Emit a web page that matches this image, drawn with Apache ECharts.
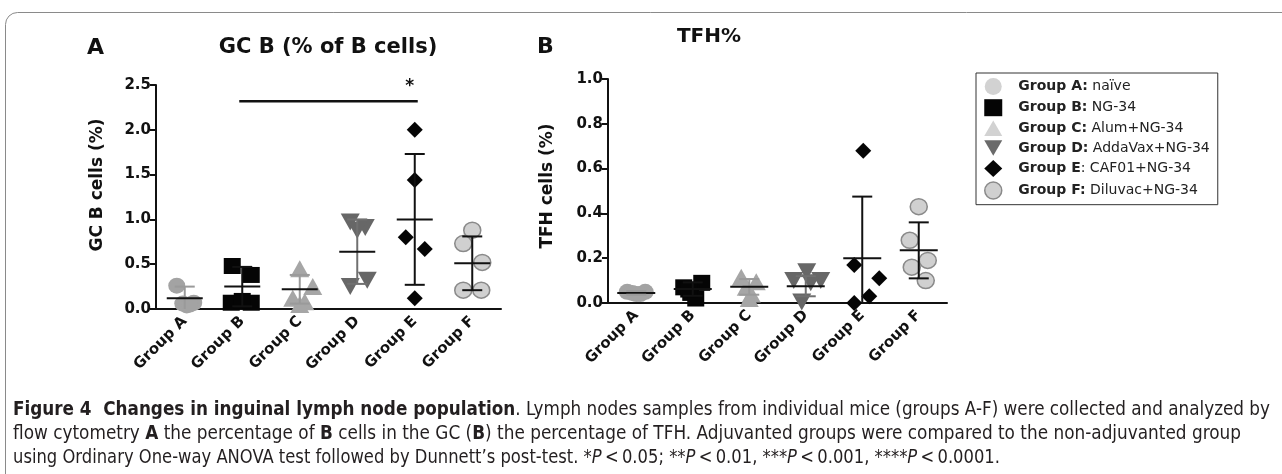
<!DOCTYPE html>
<html><head><meta charset="utf-8">
<script src="https://cdn.jsdelivr.net/npm/echarts@6/dist/echarts.min.js"></script>
<style>
html,body{margin:0;padding:0;background:#fff;}
#chart{position:absolute;left:0;top:0;width:1282px;height:474px;}
#caption{position:absolute;left:13px;top:396px;font-family:"Liberation Sans Narrow","DejaVu Sans Condensed","Liberation Sans",sans-serif;font-size:19px;color:#231f20;}
#caption div{white-space:nowrap;transform-origin:0 50%;height:24px;line-height:24px;}
#caption b{font-weight:bold;}
</style></head><body>
<div id="chart"></div>
<div id="caption">
<div data-w="1257"><b>Figure 4&nbsp; Changes in inguinal lymph node population</b>. Lymph nodes samples from individual mice (groups A-F) were collected and analyzed by</div>
<div data-w="1228">flow cytometry <b>A</b> the percentage of <b>B</b> cells in the GC (<b>B</b>) the percentage of TFH. Adjuvanted groups were compared to the non-adjuvanted group</div>
<div data-w="987">using Ordinary One-way ANOVA test followed by Dunnett’s post-test. *<i>P</i>&thinsp;&lt;&thinsp;0.05; **<i>P</i>&thinsp;&lt;&thinsp;0.01, ***<i>P</i>&thinsp;&lt;&thinsp;0.001, ****<i>P</i>&thinsp;&lt;&thinsp;0.0001.</div>
</div>
<script>
// ---------------- data ----------------
const categories = ['Group A', 'Group B', 'Group C', 'Group D', 'Group E', 'Group F'];
const legendDescriptions = ['naïve', 'NG-34', 'Alum+NG-34', 'AddaVax+NG-34', 'CAF01+NG-34', 'Diluvac+NG-34'];

// Panel A: GC B cells (% of B cells), individual mice
const gcbGroupA = [0.26, 0.04, 0.07, 0.06, 0.05];
const gcbGroupB = [0.48, 0.38, 0.07, 0.07, 0.09];
const gcbGroupC = [0.45, 0.25, 0.12, 0.08, 0.05];
const gcbGroupD = [0.97, 0.91, 0.88, 0.25, 0.32];
const gcbGroupE = [2.00, 1.44, 0.80, 0.67, 0.12];
const gcbGroupF = [0.88, 0.73, 0.52, 0.21, 0.21];
const gcbMean = [0.12, 0.25, 0.22, 0.64, 1.00, 0.51];
const gcbSD = [0.13, 0.22, 0.16, 0.36, 0.73, 0.30];
const gcbTicks = [0.0, 0.5, 1.0, 1.5, 2.0, 2.5];
const gcbSignificance = [[1, 4, 2.32]]; // Group B vs Group E
const gcbSignificanceLabel = ['*'];

// Panel B: TFH cells (%), individual mice
const tfhGroupA = [0.05, 0.05, 0.04, 0.045, 0.04];
const tfhGroupB = [0.07, 0.09, 0.045, 0.02, 0.06];
const tfhGroupC = [0.115, 0.095, 0.07, 0.04, 0.02];
const tfhGroupD = [0.14, 0.10, 0.10, 0.09, 0.005];
const tfhGroupE = [0.68, 0.17, 0.11, 0.03, 0.00];
const tfhGroupF = [0.43, 0.28, 0.19, 0.16, 0.10];
const tfhMean = [0.045, 0.062, 0.072, 0.075, 0.20, 0.235];
const tfhSD = [0.008, 0.03, 0.035, 0.045, 0.275, 0.125];
const tfhTicks = [0.0, 0.2, 0.4, 0.6, 0.8, 1.0];

// ---------------- styles ----------------
const gcbJitter = [[-8, 2, 9, -2, 5], [-10, 9, -11, 9, 0], [0, 13, -7, 5, 0], [-7, 8, 0, -7, 10], [0, 0, -9, 10, 0], [0, -9, 10, -9, 9]];
const tfhJitter = [[-9, 9, 0, -4, 4], [-9, 9, -2, 3, -4], [-8, 7, -3, 2, 0], [1, -12, 15, 5, -4], [1, -8, 17, 7, -8], [0, -9, 9, -7, 7]];
const TRI_UP = 'path://M5,0L10,8.66L0,8.66Z';
const TRI_DOWN = 'path://M0,0L10,0L5,8.66Z';
const markStyles = [
  { symbol: 'circle', size: [17, 16], color: '#a3a3a3' },
  { symbol: 'rect', size: [17, 16], color: '#050505' },
  { symbol: TRI_UP, size: [19, 17], color: '#a6a6a6' },
  { symbol: TRI_DOWN, size: [19, 17], color: '#676767' },
  { symbol: 'diamond', size: [16, 16], color: '#050505' },
  { symbol: 'circle', size: [17, 16], color: '#d0d0d0', border: '#8a8a8a' }
];
const legendStyles = [
  { icon: 'circle', color: '#d2d2d2' },
  { icon: 'rect', color: '#050505' },
  { icon: TRI_UP, color: '#d2d2d2' },
  { icon: TRI_DOWN, color: '#6a6a6a' },
  { icon: 'diamond', color: '#050505' },
  { icon: 'circle', color: '#d0d0d0', border: '#8a8a8a' }
];
const errColors = ['#9a9a9a', '#111', '#9a9a9a', '#707070', '#111', '#111'];
const FONT = 'DejaVu Sans';

const gcbGroups = [gcbGroupA, gcbGroupB, gcbGroupC, gcbGroupD, gcbGroupE, gcbGroupF];
const tfhGroups = [tfhGroupA, tfhGroupB, tfhGroupC, tfhGroupD, tfhGroupE, tfhGroupF];

function scatterSeries(groups, jitter, axisIdx) {
  return groups.map((vals, g) => ({
    type: 'scatter', name: categories[g], xAxisIndex: axisIdx, yAxisIndex: axisIdx,
    symbol: markStyles[g].symbol, symbolSize: markStyles[g].size, symbolKeepAspect: false,
    itemStyle: { color: markStyles[g].color, borderColor: markStyles[g].border || markStyles[g].color, borderWidth: markStyles[g].border ? 1.5 : 0, opacity: 1 },
    emphasis: { disabled: true }, silent: true, z: 3,
    data: vals.map((v, i) => ({ value: [g, v], symbolOffset: [jitter[g][i], 0] }))
  }));
}

function errorSeries(mean, sd, axisIdx, meanHalf, capHalf) {
  return {
    type: 'custom', xAxisIndex: axisIdx, yAxisIndex: axisIdx, z: 5, silent: true,
    data: mean.map((m, i) => [i, m, sd[i]]),
    renderItem: function (params, api) {
      const c = api.value(0), m = api.value(1), s = api.value(2);
      const pm = api.coord([c, m]);
      const pt = api.coord([c, m + s]);
      const lowVal = Math.max(m - s, 0);
      const pb = api.coord([c, lowVal]);
      const col = errColors[params.dataIndex];
      const st = { stroke: col, lineWidth: 2 };
      const children = [
        { type: 'line', shape: { x1: pm[0], y1: pt[1], x2: pm[0], y2: pb[1] }, style: st },
        { type: 'line', shape: { x1: pm[0] - capHalf, y1: pt[1], x2: pm[0] + capHalf, y2: pt[1] }, style: st },
        { type: 'line', shape: { x1: pm[0] - meanHalf, y1: pm[1], x2: pm[0] + meanHalf, y2: pm[1] }, style: { stroke: '#111', lineWidth: 2 } }
      ];
      if (m - s > 0.005) children.push({ type: 'line', shape: { x1: pm[0] - capHalf, y1: pb[1], x2: pm[0] + capHalf, y2: pb[1] }, style: st });
      return { type: 'group', children: children };
    }
  };
}

const sigSeries = {
  type: 'custom', xAxisIndex: 0, yAxisIndex: 0, z: 6, silent: true,
  data: gcbSignificance,
  renderItem: function (params, api) {
    const p1 = api.coord([api.value(0), api.value(2)]);
    const p2 = api.coord([api.value(1), api.value(2)]);
    return { type: 'group', children: [
      { type: 'line', shape: { x1: p1[0] - 3, y1: p1[1], x2: p2[0] + 3, y2: p2[1] }, style: { stroke: '#111', lineWidth: 2.5 } },
      { type: 'text', x: p2[0] - 5, y: p2[1] - 6, style: { text: gcbSignificanceLabel[params.dataIndex], font: 'bold 17px ' + FONT, fill: '#111', align: 'center', verticalAlign: 'bottom' } }
    ] };
  }
};

function xAxisDef(gridIndex) {
  return {
    type: 'category', gridIndex: gridIndex, data: categories, boundaryGap: true,
    axisLine: { lineStyle: { color: '#111', width: 2 } },
    axisTick: { alignWithLabel: true, length: 6, lineStyle: { color: '#111', width: 2 } },
    axisLabel: { rotate: 45, interval: 0, margin: 10, color: '#111', fontFamily: FONT, fontWeight: 'bold', fontSize: 15 },
    splitLine: { show: false }
  };
}
function yAxisDef(gridIndex, ticks) {
  return {
    type: 'value', gridIndex: gridIndex, min: ticks[0], max: ticks[ticks.length - 1], interval: ticks[1] - ticks[0],
    axisLine: { show: true, lineStyle: { color: '#111', width: 2 } },
    axisTick: { show: true, length: 6, lineStyle: { color: '#111', width: 2 } },
    axisLabel: { margin: 5, color: '#111', fontFamily: FONT, fontWeight: 'bold', fontSize: 15, formatter: v => v.toFixed(1) },
    splitLine: { show: false }
  };
}

const chart = echarts.init(document.getElementById('chart'), null, { renderer: 'canvas' });
chart.setOption({
  animation: false,
  backgroundColor: '#fff',
  grid: [
    { left: 156, top: 85, width: 345, height: 224 },
    { left: 608, top: 79, width: 339, height: 224 }
  ],
  xAxis: [xAxisDef(0), xAxisDef(1)],
  yAxis: [yAxisDef(0, gcbTicks), yAxisDef(1, tfhTicks)],
  legend: {
    orient: 'vertical', left: 976, top: 73, selectedMode: false,
    itemWidth: 18, itemHeight: 17, itemGap: 4.2,
    padding: [5, 8, 5, 8], borderColor: '#333', borderWidth: 1,
    data: categories.map((c, i) => ({
      name: c, icon: legendStyles[i].icon,
      itemStyle: { color: legendStyles[i].color, borderColor: legendStyles[i].border || legendStyles[i].color, borderWidth: legendStyles[i].border ? 1.5 : 0 }
    })),
    formatter: function (name) {
      const i = categories.indexOf(name);
      if (i === 4) return '{b|' + name + '}{n|: ' + legendDescriptions[i] + '}';
      return '{b|' + name + ':}{n| ' + legendDescriptions[i] + '}';
    },
    textStyle: {
      fontFamily: FONT, fontSize: 14, color: '#222',
      rich: {
        b: { fontFamily: FONT, fontSize: 14, fontWeight: 'bold', color: '#222', padding: [0, 0, 0, 11] },
        n: { fontFamily: FONT, fontSize: 14, color: '#222' }
      }
    }
  },
  graphic: [
    { type: 'rect', silent: true, z: -1, shape: { x: 5.5, y: 12.5, width: 1300, height: 480, r: 12 }, style: { fill: 'none', stroke: '#8a8a8a', lineWidth: 1 } },
    { type: 'text', x: 87, y: 48, style: { text: 'A', font: 'bold 22px ' + FONT, fill: '#111', verticalAlign: 'middle' } },
    { type: 'text', x: 328, y: 48, style: { text: 'GC B (% of B cells)', font: 'bold 21px ' + FONT, fill: '#111', align: 'center', verticalAlign: 'middle' } },
    { type: 'text', x: 537, y: 47, style: { text: 'B', font: 'bold 22px ' + FONT, fill: '#111', verticalAlign: 'middle' } },
    { type: 'text', x: 709, y: 37, style: { text: 'TFH%', font: 'bold 20px ' + FONT, fill: '#111', align: 'center', verticalAlign: 'middle' } },
    { type: 'text', x: 98, y: 185, rotation: Math.PI / 2, style: { text: 'GC B cells (%)', font: 'bold 17px ' + FONT, fill: '#111', align: 'center', verticalAlign: 'middle' } },
    { type: 'text', x: 548, y: 186, rotation: Math.PI / 2, style: { text: 'TFH cells (%)', font: 'bold 17px ' + FONT, fill: '#111', align: 'center', verticalAlign: 'middle' } }
  ],
  series: [].concat(
    scatterSeries(gcbGroups, gcbJitter, 0),
    scatterSeries(tfhGroups, tfhJitter, 1),
    [errorSeries(gcbMean, gcbSD, 0, 18, 10), errorSeries(tfhMean, tfhSD, 1, 19, 10), sigSeries]
  )
});

// fit caption lines to their widths in the reference
document.querySelectorAll('#caption div').forEach(d => {
  const span = document.createElement('span');
  span.innerHTML = d.innerHTML; d.innerHTML = ''; d.appendChild(span);
  const w = span.getBoundingClientRect().width;
  const target = +d.getAttribute('data-w');
  d.style.transform = 'scaleX(' + (target / w) + ')';
});
</script>
</body></html>
